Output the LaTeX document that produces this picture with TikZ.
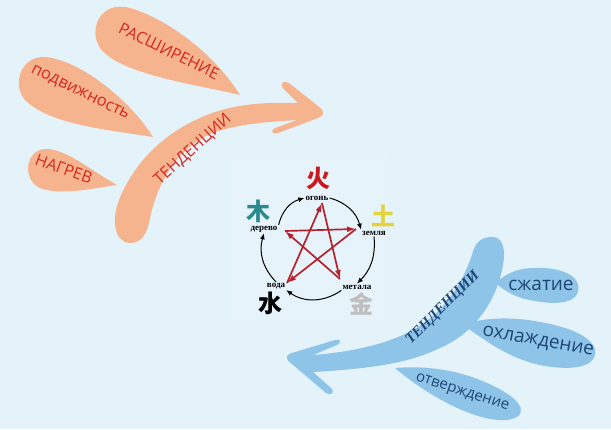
\documentclass[tikz,border=0pt]{standalone}
\usepackage{fontspec}
\setmainfont{Open Sans}
\newfontfamily\cjkfont{Noto Sans CJK SC}
\newfontfamily\elemfont{Liberation Serif}
\usepackage{tikz}
\usetikzlibrary{arrows.meta}
\definecolor{skyback}{RGB}{228,242,250}
\definecolor{peach}{RGB}{246,180,142}
\definecolor{peachtext}{RGB}{214,40,30}
\definecolor{iceblue}{RGB}{142,196,232}
\definecolor{icetext}{RGB}{30,70,115}
\definecolor{firered}{RGB}{200,25,30}
\definecolor{woodteal}{RGB}{42,138,142}
\definecolor{earthyellow}{RGB}{227,212,59}
\definecolor{starred}{RGB}{180,35,45}

\begin{document}
\begin{tikzpicture}[x=1pt,y=-1pt,
    warmtext/.style={text=peachtext,inner sep=0pt,font=\fontsize{16}{16}\selectfont},
    cooltext/.style={text=icetext,inner sep=0pt,font=\fontsize{19}{19}\selectfont},
    hanzi/.style={inner sep=0pt,font=\cjkfont\bfseries\fontsize{24}{24}\selectfont},
    element/.style={inner sep=1pt,font=\elemfont\bfseries\fontsize{9}{9}\selectfont},
    genarrow/.style={-{Latex[length=6pt,width=5pt]},line width=1pt},
    ctrlarrow/.style={-{Latex[length=9pt,width=6pt]},line width=1.7pt,draw=starred}]
  \fill[skyback] (0,0) rectangle (611,429);
  \useasboundingbox (0,0) rectangle (611,429);
  \fill[skyback!92!white] (232,155) rectangle (388,320);

  % warm side
  \fill[peach] (240,95) .. controls (215,55) and (170,20) .. (130,8)
    .. controls (100,0) and (88,30) .. (100,48)
    .. controls (120,75) and (200,85) .. (240,95) -- cycle;
  \fill[peach] (153,137) .. controls (130,100) and (80,60) .. (45,57)
    .. controls (20,56) and (12,85) .. (25,100)
    .. controls (50,125) and (110,130) .. (153,137) -- cycle;
  \fill[peach] (117,185) .. controls (90,170) and (65,148) .. (45,149)
    .. controls (25,150) and (22,180) .. (40,188)
    .. controls (60,196) and (95,188) .. (117,185) -- cycle;
  \fill[peach] (130,243) .. controls (113,242) and (112,218) .. (119,200)
    .. controls (133,165) and (163,130) .. (215,112)
    .. controls (240,104) and (265,102) .. (298,103) -- (283,88)
    .. controls (279,83) and (284,80) .. (289,83) -- (318,106)
    .. controls (325,111) and (325,115) .. (318,118) -- (278,133)
    .. controls (272,135) and (270,130) .. (275,128) -- (297,120)
    .. controls (265,122) and (240,124) .. (215,132)
    .. controls (180,145) and (158,180) .. (150,218)
    .. controls (147,234) and (142,243) .. (130,243) -- cycle;
  \node[warmtext,rotate=-26] (expand) at (169,51) {РАСШИРЕНИЕ};
  \node[warmtext,rotate=-26,font=\fontsize{16.5}{16.5}\selectfont] (mobile) at (80,93) {подвижность};
  \node[warmtext,rotate=-20] (heat) at (64,169) {НАГРЕВ};
  \node[warmtext,rotate=42] (warmtrend) at (193,150) {ТЕНДЕНЦИИ};

  % cool side
  \fill[iceblue] (490,237) .. controls (503,235) and (506,250) .. (503,265)
    .. controls (497,300) and (475,333) .. (440,348)
    .. controls (415,360) and (385,368) .. (313,372) -- (330,387)
    .. controls (336,392) and (332,396) .. (326,393) -- (292,364)
    .. controls (285,359) and (285,355) .. (292,353) -- (335,340)
    .. controls (341,338) and (342,343) .. (337,345) -- (313,355)
    .. controls (350,352) and (385,345) .. (413,330)
    .. controls (440,315) and (460,290) .. (472,255)
    .. controls (475,243) and (480,238) .. (490,237) -- cycle;
  \fill[iceblue] (495,283) .. controls (505,275) and (515,268) .. (535,268)
    .. controls (565,267) and (582,278) .. (578,292)
    .. controls (574,305) and (550,305) .. (525,299)
    .. controls (510,295) and (502,288) .. (495,283) -- cycle;
  \fill[iceblue] (463,325) .. controls (480,318) and (510,316) .. (540,322)
    .. controls (575,328) and (598,340) .. (595,355)
    .. controls (592,368) and (570,370) .. (545,366)
    .. controls (510,360) and (485,340) .. (463,325) -- cycle;
  \fill[iceblue] (395,368) .. controls (420,366) and (450,368) .. (480,380)
    .. controls (510,392) and (525,405) .. (520,414)
    .. controls (515,422) and (495,422) .. (475,415)
    .. controls (445,405) and (415,385) .. (395,368) -- cycle;
  \node[cooltext] (squeeze) at (541,285) {сжатие};
  \node[cooltext,rotate=-10] (cooling) at (538,342) {охлаждение};
  \node[cooltext,rotate=-18,font=\fontsize{15}{15}\selectfont] (harden) at (462,393) {отверждение};
  \node[text=icetext,rotate=45,inner sep=0pt,font=\elemfont\bfseries\itshape\fontsize{15}{15}\selectfont] (cooltrend) at (443,308) {ТЕНДЕНЦИИ};

  % five elements
  \node[hanzi,text=firered] (fire) at (318,178) {火};
  \node[hanzi,text=earthyellow] (earth) at (383,216) {土};
  \node[hanzi,text=woodteal] (wood) at (258,211) {木};
  \node[hanzi,text=black] (water) at (270,303) {水};
  \node[hanzi,text=gray!50] (metal) at (361,304) {金};
  \node[element] (ogon) at (317,198) {огонь};
  \node[element] (zemlya) at (374,233) {земля};
  \node[element] (derevo) at (264,229) {дерево};
  \node[element] (voda) at (276,286) {вода};
  \node[element] (metala) at (357,287) {метала};

  \draw[genarrow] (ogon.east) to[bend left=30] (zemlya.north west);
  \draw[genarrow] (zemlya.south) to[bend left=25] (metala.north);
  \draw[genarrow] (metala.south west) to[bend left=35] (voda.south east);
  \draw[genarrow] (voda.north) to[bend left=30] (derevo.south);
  \draw[genarrow] (derevo.north east) to[bend left=30] (ogon.west);

  \coordinate (pW) at (285,231);
  \coordinate (pE) at (356,229);
  \coordinate (pT) at (322,203);
  \coordinate (pBL) at (287,283);
  \coordinate (pBR) at (340,279);
  \draw[ctrlarrow] (pW) -- (pE);
  \draw[ctrlarrow] (pE) -- (pBL);
  \draw[ctrlarrow] (pBL) -- (pT);
  \draw[ctrlarrow] (pT) -- (pBR);
  \draw[ctrlarrow] (pBR) -- (pW);
\end{tikzpicture}
\end{document}
